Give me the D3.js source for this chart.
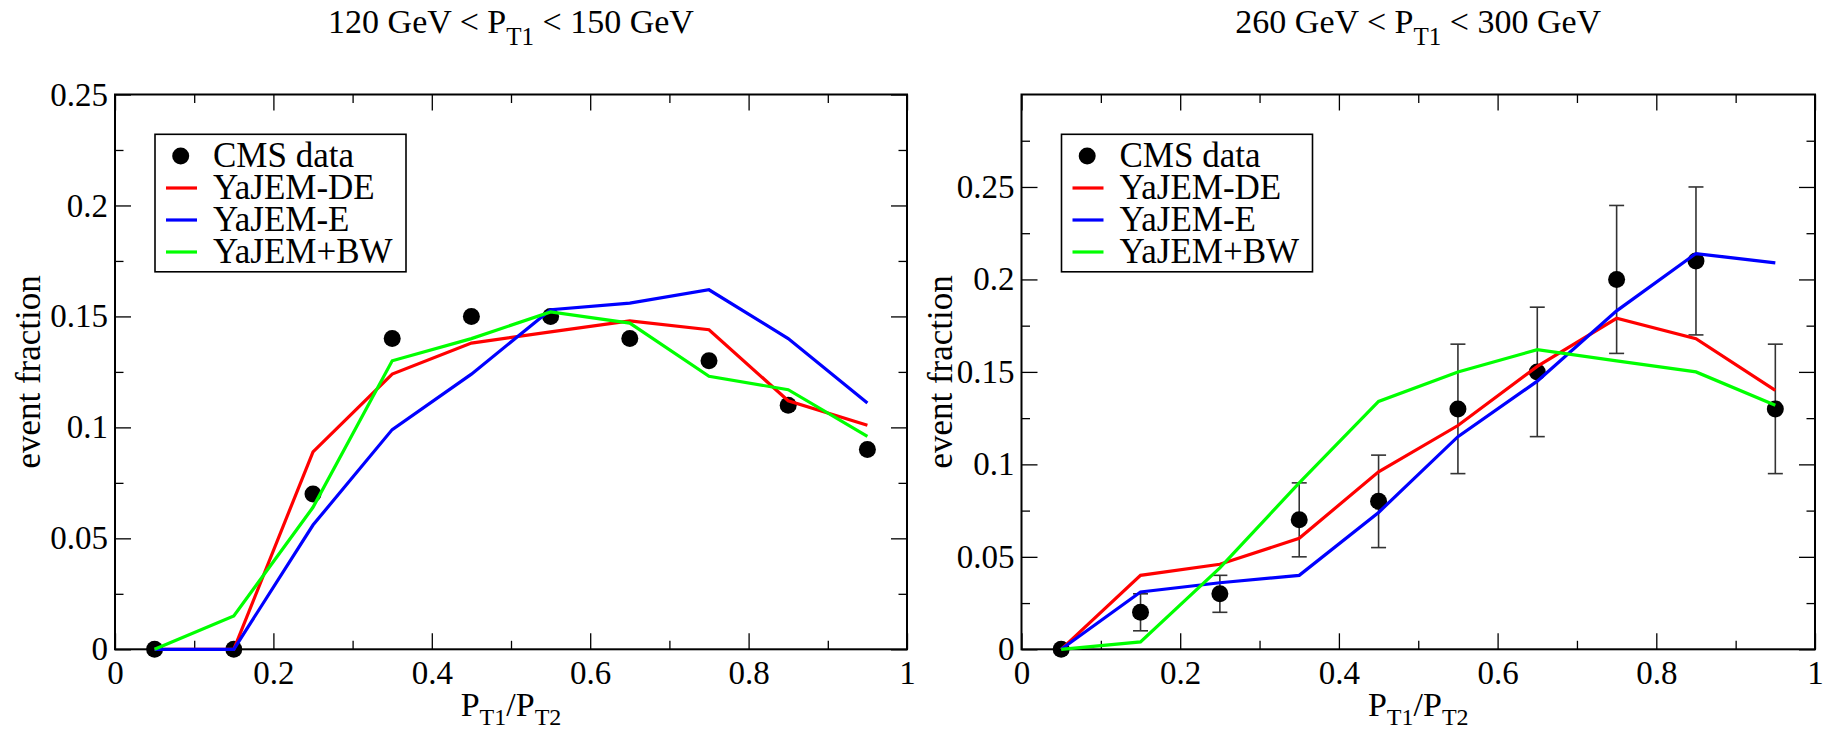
<!DOCTYPE html>
<html>
<head>
<meta charset="utf-8">
<script src="https://cdn.jsdelivr.net/npm/d3@7"></script>
<style>
  body { margin: 0; background: #fff; }
  text { font-family: "Liberation Serif", "Times New Roman", serif; fill: #000; }
</style>
</head>
<body>
<div id="chart"></div>
<script>
// bin centres of P_T1/P_T2
const xBins = [0.05, 0.15, 0.25, 0.35, 0.45, 0.55, 0.65, 0.75, 0.85, 0.95];

// 120 GeV < P_T1 < 150 GeV
const cmsLow = [0, 0, 0.07, 0.14, 0.15, 0.15, 0.14, 0.13, 0.11, 0.09];
const deLow  = [0, 0, 0.089, 0.124, 0.138, 0.143, 0.148, 0.144, 0.112, 0.101];
const eLow   = [0, 0, 0.056, 0.099, 0.124, 0.153, 0.156, 0.162, 0.140, 0.111];
const bwLow  = [0, 0.015, 0.064, 0.130, 0.140, 0.152, 0.147, 0.123, 0.117, 0.096];

// 260 GeV < P_T1 < 300 GeV
const cmsHigh = [0, 0.02, 0.03, 0.07, 0.08, 0.13, 0.15, 0.20, 0.21, 0.13];
const errHigh = [0, 0.01, 0.01, 0.02, 0.025, 0.035, 0.035, 0.04, 0.04, 0.035];
const deHigh  = [0, 0.040, 0.046, 0.060, 0.096, 0.121, 0.153, 0.179, 0.168, 0.140];
const eHigh   = [0, 0.031, 0.036, 0.040, 0.074, 0.115, 0.145, 0.183, 0.214, 0.209];
const bwHigh  = [0, 0.004, 0.044, 0.090, 0.134, 0.150, 0.162, 0.156, 0.150, 0.132];

const seriesNames = ["YaJEM-DE", "YaJEM-E", "YaJEM+BW"];
const seriesColors = ["#ff0000", "#0000ff", "#00ff00"];

const xTicks = [0, 0.2, 0.4, 0.6, 0.8, 1];
const xMinor = [0.1, 0.3, 0.5, 0.7, 0.9];
const yTicks = [0, 0.05, 0.1, 0.15, 0.2, 0.25];

const W = 1827, H = 732;
const plotTop = 94.5, plotBottom = 649.3;
const serif = "Liberation Serif";

const svg = d3.select("#chart").append("svg")
  .attr("width", W).attr("height", H)
  .style("background", "#fff");

// text with subscripts: parts are [string, shift] with shift 1 = go down, -1 = come back up
function richText(sel, parts, subSize, drop) {
  parts.forEach(([t, s]) => {
    sel.append("tspan")
      .attr("font-size", s === 1 ? subSize : null)
      .attr("dy", s === 1 ? drop : (s === -1 ? -drop : 0))
      .text(t);
  });
}

const fmt = d => String(+d.toFixed(2));

function drawAxis(g, axis, transform, values, size, labels) {
  const a = g.append("g").attr("transform", transform)
    .call(axis.tickValues(values).tickSizeInner(-size).tickSizeOuter(0)
      .tickFormat(labels ? fmt : () => ""));
  a.attr("font-family", null).attr("font-size", null);
  a.select(".domain").remove();
  a.selectAll("line").attr("stroke-width", 1.3);
  a.selectAll("text").style("font-family", serif).style("font-size", "33px");
  return a;
}

function panel(opt) {
  const x = d3.scaleLinear().domain([0, 1]).range([opt.left, opt.right]);
  const y = d3.scaleLinear().domain([0, opt.ymax]).range([plotBottom, plotTop]);
  const g = svg.append("g");

  // title
  const t = g.append("text")
    .attr("x", (opt.left + opt.right) / 2).attr("y", 33)
    .attr("text-anchor", "middle").attr("font-size", 34);
  richText(t, [[opt.title[0] + " < P", 0], ["T1", 1], [" < " + opt.title[1], -1]], 25, 12);

  const yMinor = d3.range(0.025, opt.ymax, 0.05);

  // ticks point inward on all four sides
  const bx = drawAxis(g, d3.axisBottom(x), `translate(0,${plotBottom})`, xTicks, 16, true);
  bx.selectAll("text").attr("y", 11);
  drawAxis(g, d3.axisBottom(x), `translate(0,${plotBottom})`, xMinor, 8.5, false);
  drawAxis(g, d3.axisTop(x), `translate(0,${plotTop})`, xTicks, 16, false);
  drawAxis(g, d3.axisTop(x), `translate(0,${plotTop})`, xMinor, 8.5, false);
  const ly = drawAxis(g, d3.axisLeft(y), `translate(${opt.left},0)`, yTicks, 16, true);
  ly.selectAll("text").attr("x", -7);
  drawAxis(g, d3.axisLeft(y), `translate(${opt.left},0)`, yMinor, 8.5, false);
  drawAxis(g, d3.axisRight(y), `translate(${opt.right},0)`, yTicks, 16, false);
  drawAxis(g, d3.axisRight(y), `translate(${opt.right},0)`, yMinor, 8.5, false);

  // frame
  g.append("rect")
    .attr("x", opt.left).attr("y", plotTop)
    .attr("width", opt.right - opt.left).attr("height", plotBottom - plotTop)
    .attr("fill", "none").attr("stroke", "#000").attr("stroke-width", 2);

  // axis labels
  const xl = g.append("text").attr("x", (opt.left + opt.right) / 2).attr("y", 716)
    .attr("text-anchor", "middle").attr("font-size", 34);
  richText(xl, [["P", 0], ["T1", 1], ["/P", -1], ["T2", 1]], 24, 9);
  g.append("text")
    .attr("transform", `translate(${opt.ylabX},${(plotTop + plotBottom) / 2}) rotate(-90)`)
    .attr("text-anchor", "middle").attr("font-size", 35)
    .text("event fraction");

  // error bars
  if (opt.err) {
    const eb = g.append("g").attr("stroke", "#333").attr("stroke-width", 1.6);
    xBins.forEach((xv, i) => {
      const e = opt.err[i];
      if (!e) return;
      const cx = x(xv), y1 = y(opt.cms[i] + e), y2 = y(opt.cms[i] - e);
      eb.append("line").attr("x1", cx).attr("x2", cx).attr("y1", y1).attr("y2", y2);
      eb.append("line").attr("x1", cx - 7.5).attr("x2", cx + 7.5).attr("y1", y1).attr("y2", y1);
      eb.append("line").attr("x1", cx - 7.5).attr("x2", cx + 7.5).attr("y1", y2).attr("y2", y2);
    });
  }

  // data points
  g.selectAll(".pt").data(opt.cms).enter().append("circle")
    .attr("class", "pt")
    .attr("cx", (d, i) => x(xBins[i])).attr("cy", d => y(d))
    .attr("r", 8.5).attr("fill", "#000");

  // model curves
  const line = d3.line().x((d, i) => x(xBins[i])).y(d => y(d));
  opt.series.forEach((s, k) => {
    g.append("path").datum(s).attr("d", line)
      .attr("fill", "none").attr("stroke", seriesColors[k]).attr("stroke-width", 3.2);
  });

  // legend
  const lx = opt.left + 40, lyTop = 134.3;
  g.append("rect").attr("x", lx).attr("y", lyTop).attr("width", 251).attr("height", 137.5)
    .attr("fill", "#fff").attr("stroke", "#000").attr("stroke-width", 1.6);
  const rows = [156, 188, 220, 252];
  g.append("circle").attr("cx", lx + 25.7).attr("cy", rows[0]).attr("r", 8.5).attr("fill", "#000");
  g.append("text").attr("x", lx + 58).attr("y", rows[0] + 11).attr("font-size", 35).text("CMS data");
  seriesNames.forEach((n, k) => {
    g.append("line").attr("x1", lx + 11).attr("x2", lx + 42).attr("y1", rows[k + 1]).attr("y2", rows[k + 1])
      .attr("stroke", seriesColors[k]).attr("stroke-width", 3.2);
    g.append("text").attr("x", lx + 58).attr("y", rows[k + 1] + 11).attr("font-size", 35).text(n);
  });
}

panel({
  left: 115, right: 907, ymax: 0.25, ylabX: 40,
  title: ["120 GeV", "150 GeV"],
  cms: cmsLow, err: null, series: [deLow, eLow, bwLow]
});
panel({
  left: 1021.5, right: 1815, ymax: 0.3, ylabX: 952,
  title: ["260 GeV", "300 GeV"],
  cms: cmsHigh, err: errHigh, series: [deHigh, eHigh, bwHigh]
});
</script>
</body>
</html>
